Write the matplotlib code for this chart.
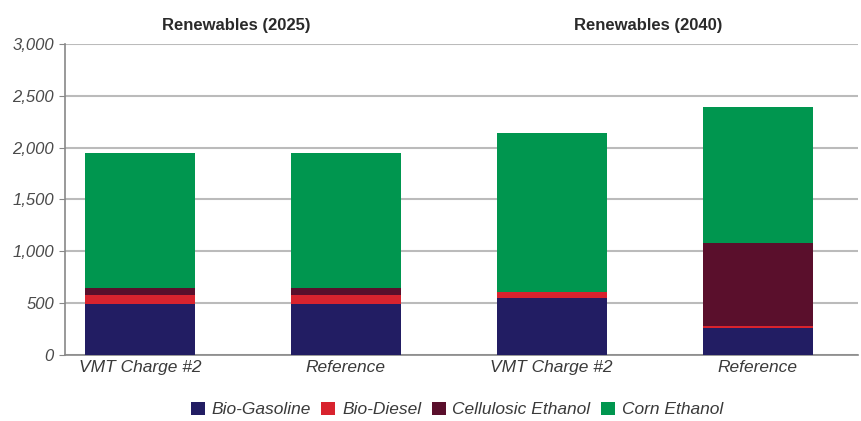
import matplotlib.pyplot as plt
import numpy as np

# data
scenarios = ["VMT Charge #2", "Reference", "VMT Charge #2", "Reference"]
groups = ["Renewables (2025)", "Renewables (2040)"]
bio_gasoline = [490, 490, 550, 255]
bio_diesel = [85, 85, 60, 25]
cellulosic = [75, 75, 0, 800]
corn_ethanol = [1300, 1300, 1530, 1310]
series_names = ["Bio-Gasoline", "Bio-Diesel", "Cellulosic Ethanol", "Corn Ethanol"]
colors = ["#221d63", "#d8232e", "#5a0f2c", "#00964f"]

plt.rcParams["font.family"] = ["Liberation Sans Narrow", "Liberation Sans", "DejaVu Sans"]

fig = plt.figure(figsize=(8.62, 4.21), dpi=100)
ax = fig.add_axes([0.0754, 0.157, 0.9196, 0.7385])

x = np.arange(len(scenarios))
bottom = np.zeros(len(scenarios))
for vals, name, c in zip([bio_gasoline, bio_diesel, cellulosic, corn_ethanol], series_names, colors):
    ax.bar(x, vals, width=0.535, bottom=bottom, color=c, label=name, zorder=3)
    bottom += np.array(vals)

ax.set_xlim(-0.364, 3.486)
ax.set_ylim(0, 3000)
ax.set_yticks(np.arange(0, 3001, 500))
ax.set_yticklabels([f"{v:,}" for v in range(0, 3001, 500)], fontstyle="italic",
                   fontsize=12, color="#4a4a4a")
ax.set_xticks(x)
ax.set_xticklabels(scenarios, fontstyle="italic", fontsize=12.5, color="#3a3a3a")
ax.tick_params(axis="x", length=0, pad=4)
ax.tick_params(axis="y", length=4, color="#888888", pad=4)
ax.grid(axis="y", color="#bbbbbb", linewidth=1.5, zorder=0)
for s in ["top", "right"]:
    ax.spines[s].set_visible(False)
for s in ["left", "bottom"]:
    ax.spines[s].set_color("#888888")
    ax.spines[s].set_linewidth(1.2)

# group headers
for i, g in enumerate(groups):
    ax.text(2 * i + 0.47, 3180, g, ha="center", va="center", fontsize=12,
            fontweight="bold", color="#2a2a2a")

fig.legend(loc="center", bbox_to_anchor=(0.53, 0.027), ncol=4, frameon=False,
           prop={"style": "italic", "size": 12.5}, handlelength=0.8, handleheight=0.8,
           handletextpad=0.4, columnspacing=0.6, labelcolor="#3a3a3a")

fig.savefig("out.png", dpi=100)
